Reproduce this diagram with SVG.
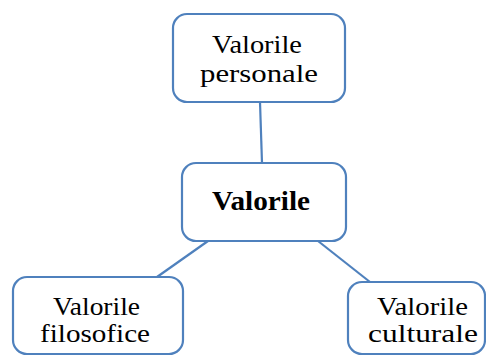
<svg xmlns="http://www.w3.org/2000/svg" width="486" height="356" viewBox="0 0 486 356">
<style>
.box{fill:#ffffff;stroke:#4f81bd;stroke-width:2.2}
.ln{stroke:#4f81bd;stroke-width:2.2;fill:none}
text{font-family:"Liberation Serif","Times New Roman",serif;font-size:26px;fill:#000;text-anchor:middle}
.b{font-weight:bold;font-size:27px}
</style>
<rect width="486" height="356" fill="#ffffff"/>
<g id="connectors">
<line class="ln" x1="260" y1="102" x2="262" y2="163"/>
<line class="ln" x1="208" y1="241" x2="157" y2="277"/>
<line class="ln" x1="318" y1="241" x2="370" y2="282"/>
</g>
<g id="personale">
<rect class="box" x="173" y="14" width="172" height="88" rx="14"/>
<text x="257" y="53" textLength="90" lengthAdjust="spacingAndGlyphs">Valorile</text>
<text x="259" y="82" textLength="118" lengthAdjust="spacingAndGlyphs">personale</text>
</g>
<g id="valorile">
<rect class="box" x="182" y="163" width="164" height="78" rx="14"/>
<text class="b" x="261" y="210" textLength="98" lengthAdjust="spacingAndGlyphs">Valorile</text>
</g>
<g id="filosofice">
<rect class="box" x="13" y="277" width="170" height="77" rx="14"/>
<text x="96.5" y="315" textLength="87" lengthAdjust="spacingAndGlyphs">Valorile</text>
<text x="95" y="342" textLength="110" lengthAdjust="spacingAndGlyphs">filosofice</text>
</g>
<g id="culturale">
<rect class="box" x="348" y="282" width="137" height="72" rx="14"/>
<text x="422.5" y="315" textLength="91" lengthAdjust="spacingAndGlyphs">Valorile</text>
<text x="423" y="342" textLength="110" lengthAdjust="spacingAndGlyphs">culturale</text>
</g>
</svg>
